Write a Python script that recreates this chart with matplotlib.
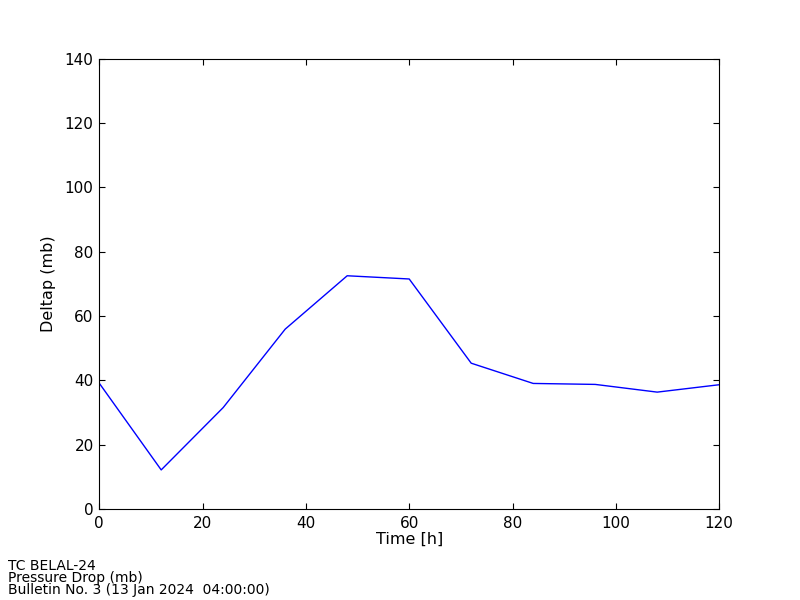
import matplotlib
matplotlib.use('Agg')
import matplotlib.pyplot as plt

# Forecast lead times and pressure drop values
hours = [0, 12, 24, 36, 48, 60, 72, 84, 96, 108, 120]
deltap = [39.1, 12.1, 31.5, 55.9, 72.5, 71.5, 45.3, 39.0, 38.7, 36.3, 38.6]

title_lines = ['TC BELAL-24', 'Pressure Drop (mb)', 'Bulletin No. 3 (13 Jan 2024  04:00:00)']

plt.rcParams['xtick.direction'] = 'in'
plt.rcParams['ytick.direction'] = 'in'
plt.rcParams['xtick.top'] = True
plt.rcParams['ytick.right'] = True
plt.rcParams['xtick.major.size'] = 4
plt.rcParams['ytick.major.size'] = 4

fig = plt.figure(figsize=(8, 6), dpi=100)
ax = fig.add_axes([0.124, 0.152, 0.775, 0.75])
ax.plot(hours, deltap, color='blue', linewidth=1)

ax.set_xlim(0, 120)
ax.set_ylim(0, 140)
ax.set_xticks(range(0, 121, 20))
ax.set_yticks(range(0, 141, 20))
ax.tick_params(axis='y', labelsize=11, pad=4)
ax.tick_params(axis='x', labelsize=11, pad=5)
ax.set_xlabel('Time [h]', fontsize=11.5, labelpad=1)
ax.set_ylabel('Deltap (mb)', fontsize=11.5, labelpad=6)

for i, line in enumerate(title_lines):
    fig.text(0.01, 0.05 - 0.02 * i, line, fontsize=10, va='baseline')

fig.savefig('out.png', dpi=100, facecolor='white')
